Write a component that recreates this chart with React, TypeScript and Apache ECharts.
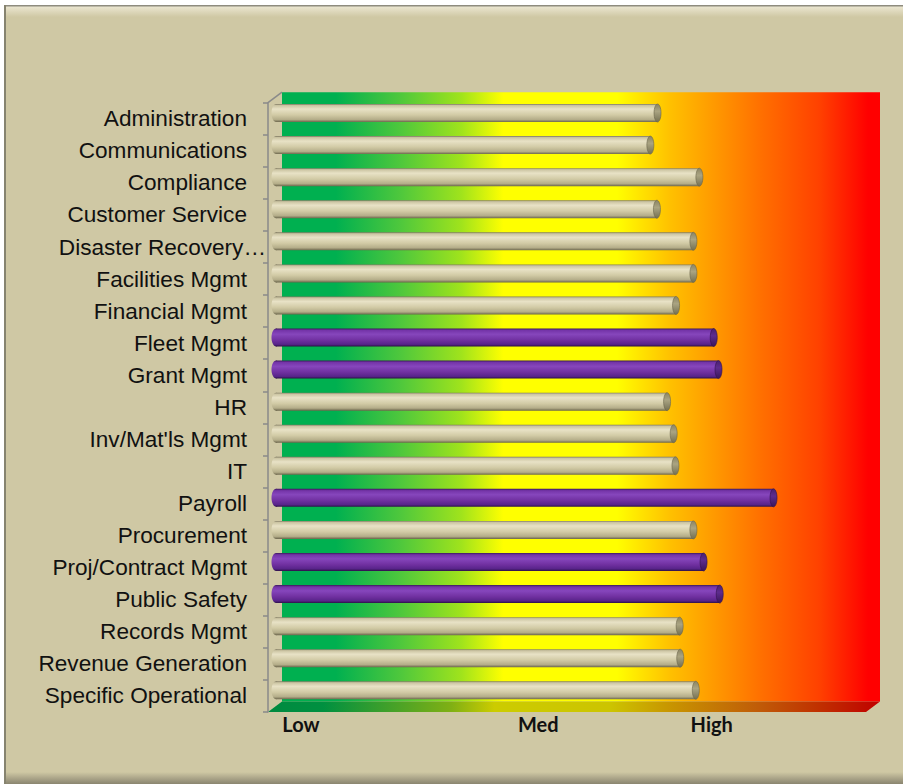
import React, { useEffect, useRef } from "react";
import * as echarts from "echarts";

// ---------- data ----------
const categories = [
  "Administration",
  "Communications",
  "Compliance",
  "Customer Service",
  "Disaster Recovery…",
  "Facilities Mgmt",
  "Financial Mgmt",
  "Fleet Mgmt",
  "Grant Mgmt",
  "HR",
  "Inv/Mat'ls Mgmt",
  "IT",
  "Payroll",
  "Procurement",
  "Proj/Contract Mgmt",
  "Public Safety",
  "Records Mgmt",
  "Revenue Generation",
  "Specific Operational",
];
const riskScores = [
  63.8, 62.6, 70.8, 63.7, 69.8, 69.8, 66.9, 73.2, 74.0, 65.4, 66.5, 66.8, 83.2,
  69.8, 71.5, 74.2, 67.5, 67.6, 70.2,
];
const highlighted = [0, 0, 0, 0, 0, 0, 0, 1, 1, 0, 0, 0, 1, 0, 1, 1, 0, 0, 0];
const levelLabels = ["Low", "Med", "High"];
const levelValues = [5.5, 45.2, 74.2];
const truncatedLabel = "Disaster Recovery…";

// ---------- layout ----------
const W = 903;
const H = 784;
const GRID_LEFT = 268;
const GRID_RIGHT_X = 866;
const GRID_TOP = 102.7;
const GRID_BOTTOM_Y = 712;
const DEPTH_X = 14;
const DEPTH_Y = 10.5;
const BAR_DX = 8;
const BAR_DY = 5.7;
const BAR_H = 18;

const lg = (x2: number, y2: number, stops: [number, string][]) =>
  new echarts.graphic.LinearGradient(
    0,
    0,
    x2,
    y2,
    stops.map(([offset, color]) => ({ offset, color }))
  );

const wallStops: [number, string][] = [
  [0, "#00b050"],
  [0.09, "#00b050"],
  [0.2, "#50c83c"],
  [0.3, "#a0e31c"],
  [0.37, "#ffff00"],
  [0.56, "#ffff00"],
  [0.65, "#ffc000"],
  [0.8, "#ff7000"],
  [0.9, "#ff4000"],
  [0.98, "#ff0000"],
  [1, "#ff0000"],
];
const floorStops: [number, string][] = [
  [0, "#008a40"],
  [0.09, "#009040"],
  [0.3, "#80b014"],
  [0.37, "#cccc00"],
  [0.56, "#ccc400"],
  [0.65, "#c89800"],
  [0.8, "#c05c08"],
  [0.9, "#c03000"],
  [1, "#c00000"],
];

const tanBody = () =>
  lg(0, 1, [
    [0, "#7e7860"],
    [0.08, "#cbc4a2"],
    [0.28, "#e8e2c6"],
    [0.6, "#d2cba6"],
    [0.86, "#b4ad89"],
    [1, "#6c664c"],
  ]);
const tanCap = () =>
  lg(0, 1, [
    [0, "#8a8464"],
    [0.4, "#aaa482"],
    [1, "#747052"],
  ]);
const purpleBody = () =>
  lg(0, 1, [
    [0, "#3c1a5c"],
    [0.1, "#7434a8"],
    [0.32, "#8646bc"],
    [0.65, "#7030a0"],
    [0.88, "#58248a"],
    [1, "#2c1046"],
  ]);
const purpleCap = () =>
  lg(0, 1, [
    [0, "#4a2070"],
    [0.4, "#5e2c8e"],
    [1, "#3a165a"],
  ]);

export default function App() {
  const ref = useRef<HTMLDivElement>(null);

  useEffect(() => {
    if (!ref.current) return;
    const chart = echarts.init(ref.current, null, { renderer: "svg" });

    const labelFont = {
      fontFamily: "'Liberation Sans', Arial, sans-serif",
      fontSize: 22.6,
      color: "#111111",
    };

    const option: any = {
      animation: false,
      backgroundColor: "#ffffff",
      graphic: [
        // chart panel
        { type: "rect", z: -20, shape: { x: 4, y: 5, width: W, height: H - 5 }, style: { fill: "#cfc8a4" } },
        { type: "rect", z: -19, shape: { x: 6, y: 6, width: W, height: 11 }, style: { fill: lg(0, 1, [[0, "#ece7d2"], [1, "#cfc8a4"]]) } },
        { type: "rect", z: -19, shape: { x: 4, y: 772, width: W, height: 12 }, style: { fill: lg(0, 1, [[0, "#cfc8a4"], [1, "#8a8570"]]) } },
        { type: "rect", z: -18, shape: { x: 4, y: 5, width: W, height: 1.5 }, style: { fill: "#8e8b7e" } },
        { type: "rect", z: -18, shape: { x: 4, y: 5, width: 2, height: H - 5 }, style: { fill: "#86836f" } },
        // back wall
        {
          type: "rect",
          z: -10,
          shape: {
            x: GRID_LEFT + DEPTH_X,
            y: GRID_TOP - DEPTH_Y,
            width: GRID_RIGHT_X - GRID_LEFT,
            height: GRID_BOTTOM_Y - GRID_TOP,
          },
          style: { fill: lg(1, 0, wallStops) },
        },
        // floor
        {
          type: "polygon",
          z: -10,
          shape: {
            points: [
              [GRID_LEFT, GRID_BOTTOM_Y],
              [GRID_LEFT + DEPTH_X, GRID_BOTTOM_Y - DEPTH_Y],
              [GRID_RIGHT_X + DEPTH_X, GRID_BOTTOM_Y - DEPTH_Y],
              [GRID_RIGHT_X, GRID_BOTTOM_Y],
            ],
          },
          style: { fill: lg(1, 0, floorStops) },
        },
        // axis top diagonal
        {
          type: "line",
          z: -5,
          shape: { x1: GRID_LEFT, y1: GRID_TOP, x2: GRID_LEFT + DEPTH_X, y2: GRID_TOP - DEPTH_Y },
          style: { stroke: "#8a8a8a", lineWidth: 1.5 },
        },
      ],
      grid: {
        left: GRID_LEFT,
        right: W - GRID_RIGHT_X,
        top: GRID_TOP,
        bottom: H - GRID_BOTTOM_Y,
        containLabel: false,
      },
      xAxis: {
        type: "value",
        min: 0,
        max: 100,
        axisLine: { show: false },
        axisTick: { show: false },
        splitLine: { show: false },
        axisLabel: {
          customValues: levelValues,
          formatter: (v: number) => {
            let best = 0;
            levelValues.forEach((lv, i) => {
              if (Math.abs(lv - v) < Math.abs(levelValues[best] - v)) best = i;
            });
            return levelLabels[best];
          },
          fontFamily: "Lato, 'Open Sans', sans-serif",
          fontWeight: "bold",
          fontSize: 20,
          color: "#111111",
          margin: 2,
        },
      },
      yAxis: {
        type: "category",
        data: categories,
        inverse: true,
        axisLine: { show: true, lineStyle: { color: "#8a8a8a", width: 1.5 } },
        axisTick: { show: true, length: 5, lineStyle: { color: "#8a8a8a", width: 1.5 } },
        splitLine: { show: false },
        axisLabel: {
          margin: 0,
          ...labelFont,
          formatter: (v: string) => (v === truncatedLabel ? `{b|${v}}` : `{a|${v}}`),
          rich: {
            a: { ...labelFont, padding: [0, 21, 0, 0] },
            b: { ...labelFont, padding: [0, 2, 0, 0] },
          },
        },
      },
      series: [
        {
          type: "custom",
          coordinateSystem: "cartesian2d",
          encode: { x: 0, y: 1 },
          data: categories.map((c, i) => [riskScores[i], i, highlighted[i]]),
          renderItem: (params: any, api: any) => {
            const v = api.value(0);
            const idx = api.value(1);
            const hl = api.value(2) === 1;
            const p0 = api.coord([0, idx]);
            const p1 = api.coord([v, idx]);
            const cy = p0[1] - BAR_DY;
            const xs = p0[0] + BAR_DX;
            const xe = p1[0] + BAR_DX;
            return {
              type: "group",
              children: [
                {
                  type: "ellipse",
                  shape: { cx: xs, cy, rx: 4.5, ry: BAR_H / 2 },
                  style: { fill: hl ? purpleBody() : tanBody() },
                },
                {
                  type: "rect",
                  shape: { x: xs, y: cy - BAR_H / 2, width: xe - xs, height: BAR_H },
                  style: { fill: hl ? purpleBody() : tanBody() },
                },
                {
                  type: "ellipse",
                  shape: { cx: xe, cy, rx: 3.5, ry: BAR_H / 2 },
                  style: {
                    fill: hl ? purpleCap() : tanCap(),
                    stroke: hl ? "#30104c" : "#6a654a",
                    lineWidth: 0.6,
                  },
                },
              ],
            };
          },
        },
      ],
    };

    chart.setOption(option);
    return () => chart.dispose();
  }, []);

  return (
    <div
      ref={ref}
      style={{ position: "fixed", left: 0, top: 0, width: W, height: H }}
    />
  );
}
